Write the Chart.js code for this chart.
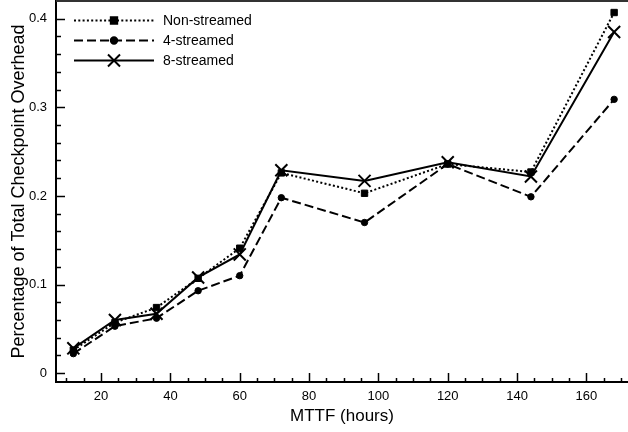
<!DOCTYPE html>
<html>
<head>
<meta charset="utf-8">
<script src="https://cdn.jsdelivr.net/npm/chart.js@4/dist/chart.umd.min.js"></script>
<style>
  html, body { margin: 0; padding: 0; background: #fff; }
  #wrap { width: 628px; height: 432px; position: relative; }
</style>
</head>
<body>
<div id="wrap"><canvas id="chart"></canvas></div>
<script>
// MTTF values (hours) on the x axis
const mttf = [12, 24, 36, 48, 60, 72, 96, 120, 144, 168];

// Percentage of total checkpoint overhead per series
const nonStreamed = [0.026, 0.057, 0.074, 0.107, 0.141, 0.226, 0.203, 0.236, 0.227, 0.407];
const fourStreamed = [0.022, 0.053, 0.062, 0.093, 0.110, 0.198, 0.170, 0.236, 0.199, 0.309];
const eightStreamed = [0.028, 0.060, 0.067, 0.108, 0.134, 0.229, 0.217, 0.238, 0.222, 0.385];

const seriesNames = ['Non-streamed', '4-streamed', '8-streamed'];

// Axis ticks
const xMajorTicks = [20, 40, 60, 80, 100, 120, 140, 160];
const xMinorStep = 5;
const yMajorTicks = [0, 0.1, 0.2, 0.3, 0.4];
const yMinorStep = 0.02;

const FONT = '"Liberation Sans", Arial, Helvetica, sans-serif';

function toPoints(values) {
    return values.map((v, i) => ({ x: mttf[i], y: v }));
}

// Draws inward tick marks, the top frame line and the inset legend
const paperAxes = {
    id: 'paperAxes',
    afterDraw(chart) {
        const ctx = chart.ctx;
        const area = chart.chartArea;
        const xs = chart.scales.x;
        const ys = chart.scales.y;
        ctx.save();
        ctx.strokeStyle = '#000';
        ctx.lineWidth = 1.5;

        // x minor + major ticks (pointing up into the plot)
        for (let v = 10; v <= 170; v += xMinorStep) {
            const px = Math.round(xs.getPixelForValue(v)) + 0.5;
            const len = xMajorTicks.includes(v) ? 9 : 4;
            ctx.beginPath();
            ctx.moveTo(px, area.bottom);
            ctx.lineTo(px, area.bottom - len);
            ctx.stroke();
        }
        // y minor + major ticks (pointing right into the plot)
        for (let k = 0; k <= 20; k++) {
            const v = k * yMinorStep;
            const py = Math.round(ys.getPixelForValue(v)) + 0.5;
            const isMajor = yMajorTicks.some(t => Math.abs(t - v) < 1e-9);
            const len = isMajor ? 9 : 5;
            ctx.beginPath();
            ctx.moveTo(area.left, py);
            ctx.lineTo(area.left + len, py);
            ctx.stroke();
        }

        // top frame line
        ctx.strokeStyle = '#333';
        ctx.lineWidth = 2;
        ctx.beginPath();
        ctx.moveTo(area.left, area.top);
        ctx.lineTo(area.right, area.top);
        ctx.stroke();

        // legend
        const rows = [20.5, 40.5, 60.5];
        chart.data.datasets.forEach((ds, i) => {
            const y = rows[i];
            ctx.strokeStyle = '#000';
            ctx.lineWidth = 2;
            ctx.setLineDash(ds.borderDash || []);
            ctx.beginPath();
            ctx.moveTo(74, y);
            ctx.lineTo(154, y);
            ctx.stroke();
            ctx.setLineDash([]);
            Chart.helpers.drawPoint(ctx, {
                pointStyle: ds.pointStyle,
                radius: ds.pointRadius,
                borderWidth: ds.pointBorderWidth
            }, 114, y);
            ctx.fillStyle = '#000';
            ctx.font = '14px ' + FONT;
            ctx.textBaseline = 'middle';
            ctx.textAlign = 'left';
            ctx.fillText(ds.label, 163, y + 0.5);
        });
        ctx.restore();
    }
};

document.addEventListener('DOMContentLoaded', function () {
    const ctx = document.getElementById('chart');

    const common = {
        borderColor: '#000',
        backgroundColor: '#000',
        pointBorderColor: '#000',
        pointBackgroundColor: '#000',
        borderWidth: 2,
        fill: false,
        tension: 0
    };

    new Chart(ctx, {
        type: 'line',
        data: {
            datasets: [
                Object.assign({}, common, {
                    label: seriesNames[0],
                    data: toPoints(nonStreamed),
                    borderDash: [2, 2.3],
                    pointStyle: 'rect',
                    pointRadius: 4.5,
                    pointBorderWidth: 1
                }),
                Object.assign({}, common, {
                    label: seriesNames[1],
                    data: toPoints(fourStreamed),
                    borderDash: [9, 4],
                    pointStyle: 'circle',
                    pointRadius: 3.2,
                    pointBorderWidth: 1
                }),
                Object.assign({}, common, {
                    label: seriesNames[2],
                    data: toPoints(eightStreamed),
                    borderDash: [],
                    pointStyle: 'crossRot',
                    pointRadius: 8.5,
                    pointBorderWidth: 2
                })
            ]
        },
        options: {
            responsive: true,
            maintainAspectRatio: false,
            animation: false,
            clip: false,
            layout: { autoPadding: false, padding: { top: 1, right: 0, left: 0, bottom: 0 } },
            plugins: {
                legend: { display: false },
                tooltip: { enabled: false }
            },
            scales: {
                x: {
                    type: 'linear',
                    min: 7,
                    max: 172,
                    afterFit(scale) {
                        scale.height = 50;
                        scale.paddingLeft = 0;
                        scale.paddingRight = 0;
                    },
                    grid: { display: false, drawTicks: false },
                    border: { display: true, color: '#000', width: 2 },
                    ticks: {
                        stepSize: 20,
                        includeBounds: false,
                        autoSkip: false,
                        maxRotation: 0,
                        padding: 7,
                        color: '#000',
                        font: { family: FONT, size: 13 }
                    },
                    title: {
                        display: true,
                        text: 'MTTF (hours)',
                        color: '#000',
                        padding: { top: 0, bottom: 5 },
                        font: { family: FONT, size: 17 }
                    }
                },
                y: {
                    type: 'linear',
                    min: -0.01,
                    max: 0.42,
                    afterFit(scale) {
                        scale.width = 56;
                        scale.paddingTop = 0;
                        scale.paddingBottom = 0;
                    },
                    grid: { display: false, drawTicks: false },
                    border: { display: true, color: '#000', width: 2 },
                    ticks: {
                        stepSize: 0.1,
                        includeBounds: false,
                        autoSkip: false,
                        padding: 9,
                        color: '#000',
                        font: { family: FONT, size: 13 },
                        callback: v => String(Math.round(v * 10) / 10)
                    },
                    title: {
                        display: true,
                        text: 'Percentage of Total Checkpoint Overhead',
                        color: '#000',
                        padding: { top: 8, bottom: 0 },
                        font: { family: FONT, size: 18 }
                    }
                }
            }
        },
        plugins: [paperAxes]
    });
});
</script>
</body>
</html>
